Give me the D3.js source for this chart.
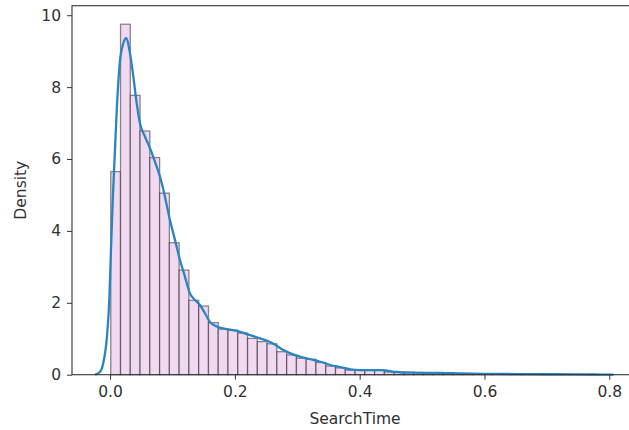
<!DOCTYPE html>
<html>
<head>
<meta charset="utf-8">
<script src="https://cdn.jsdelivr.net/npm/d3@7"></script>
<style>
	body {margin: 0; background: #fff;}
	text {font-family: "DejaVu Sans", sans-serif; fill: #303030;}
</style>
</head>
<body>
<div id="chart"></div>
<script>
// histogram densities, 50 equal bins starting at binStart
var binStart = 0.0011, binWidth = 0.01566;
var density = [5.65, 9.75, 7.77, 6.78, 6.04, 5.05, 3.67, 2.91, 2.07, 1.91,
	1.45, 1.27, 1.24, 1.16, 1.01, 0.92, 0.86, 0.64, 0.55, 0.46,
	0.43, 0.34, 0.24, 0.19, 0.13, 0.13, 0.12, 0.13, 0.075, 0.07,
	0.07, 0.06, 0.04, 0.04, 0.035, 0.03, 0.03, 0.025, 0.02, 0.02,
	0.015, 0.015, 0.01, 0.01, 0.01, 0.008, 0.006, 0.005, 0.004, 0.004];

// kde curve
var kdeX = [-0.024, -0.016, -0.011, -0.005, -0.001, 0.0016, 0.0043, 0.0075, 0.0107, 0.016,
	0.0213, 0.0256, 0.032, 0.0373, 0.0427, 0.048, 0.056, 0.064, 0.072, 0.080,
	0.0855, 0.096, 0.104, 0.112, 0.120, 0.128, 0.136, 0.144, 0.152, 0.160,
	0.171, 0.187, 0.203, 0.219, 0.235, 0.251, 0.264, 0.276, 0.288, 0.304,
	0.321, 0.337, 0.353, 0.369, 0.385, 0.401, 0.433, 0.444, 0.459, 0.481,
	0.523, 0.56, 0.6, 0.65, 0.7, 0.75, 0.79, 0.807];
var kdeY = [0, 0.08, 0.32, 1.06, 2.17, 3.56, 4.86, 6.1, 7.36, 8.75,
	9.22, 9.36, 8.94, 8.29, 7.55, 6.99, 6.62, 6.30, 5.92, 5.51,
	5.14, 4.30, 3.75, 3.19, 2.73, 2.26, 2.08, 1.94, 1.71, 1.47,
	1.34, 1.27, 1.22, 1.13, 1.04, 0.95, 0.84, 0.70, 0.60, 0.50,
	0.43, 0.36, 0.27, 0.21, 0.15, 0.13, 0.13, 0.11, 0.075, 0.056,
	0.05, 0.035, 0.025, 0.018, 0.012, 0.008, 0.004, 0];

var xTicks = [0, 0.2, 0.4, 0.6, 0.8];
var yTicks = [0, 2, 4, 6, 8, 10];

(function(){
	var width = 629, height = 430;
	var left = 72, right = 638, top = 5.7, bottom = 374.7;
	var fontSize = '15.5px';

	var svg = d3.select('#chart')
		.append('svg')
			.attr('width', width)
			.attr('height', height);

	var x = d3.scaleLinear().domain([-0.061, 0.846]).range([left, right]);
	var y = d3.scaleLinear().domain([0, 10.265]).range([bottom, top]);

	var bins = density.map(function(d, i) {
		return {x0: binStart + i * binWidth, x1: binStart + (i + 1) * binWidth, v: d};
	});

	svg.append('g')
		.selectAll('rect')
		.data(bins)
		.enter().append('rect')
			.attr('x', function(d) {return x(d.x0);})
			.attr('y', function(d) {return y(d.v);})
			.attr('width', function(d) {return x(d.x1) - x(d.x0);})
			.attr('height', function(d) {return y(0) - y(d.v);})
			.style('fill', '#f1d9f1')
			.style('stroke', '#000')
			.style('stroke-opacity', 0.45)
			.style('stroke-width', 1.3);

	var line = d3.line()
		.x(function(d) {return x(d[0]);})
		.y(function(d) {return y(d[1]);})
		.curve(d3.curveMonotoneX);

	svg.append('path')
		.datum(d3.zip(kdeX, kdeY))
		.attr('d', line)
		.style('fill', 'none')
		.style('stroke', '#2b83c0')
		.style('stroke-width', 2.3)
		.style('stroke-linejoin', 'round');

	// axes
	var xAxis = svg.append('g')
		.attr('transform', 'translate(0,' + bottom + ')')
		.call(d3.axisBottom(x).tickValues(xTicks).tickFormat(d3.format('.1f')).tickSize(5).tickPadding(6));
	var yAxis = svg.append('g')
		.attr('transform', 'translate(' + left + ',0)')
		.call(d3.axisLeft(y).tickValues(yTicks).tickSize(5).tickPadding(6));

	[xAxis, yAxis].forEach(function(g) {
		g.select('.domain').remove();
		g.selectAll('line').style('stroke', '#333').style('stroke-width', 1);
		g.selectAll('text').style('font-size', fontSize).style('font-family', '"DejaVu Sans", sans-serif').style('fill', '#303030');
	});

	// spines
	svg.append('rect')
		.attr('x', left)
		.attr('y', top)
		.attr('width', right - left)
		.attr('height', bottom - top)
		.style('fill', 'none')
		.style('stroke', '#333')
		.style('stroke-width', 1.1);

	svg.append('text')
		.attr('x', (left + right) / 2)
		.attr('y', 424)
		.attr('text-anchor', 'middle')
		.style('font-size', fontSize)
		.text('SearchTime');

	svg.append('text')
		.attr('transform', 'translate(26,' + (top + bottom) / 2 + ') rotate(-90)')
		.attr('text-anchor', 'middle')
		.style('font-size', fontSize)
		.text('Density');
})();
</script>
</body>
</html>
